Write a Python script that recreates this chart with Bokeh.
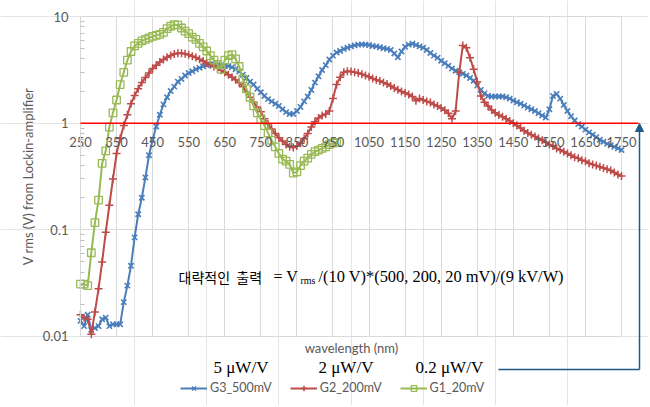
from bokeh.plotting import figure
from bokeh.models import (Range1d, FixedTicker, CustomJSTickFormatter, LinearAxis, LogAxis, LogScale, Grid,
                          Label, Arrow, NormalHead, Legend, LegendItem)
from bokeh.embed import file_html
from bokeh.resources import INLINE

# ---------------- data ----------------
wl_g3 = list(range(250, 1751, 10))
g3_500mV = [
    0.014, 0.0125, 0.016, 0.0115, 0.012, 0.0125, 0.0145, 0.015, 0.0125, 0.013,
    0.013, 0.013, 0.021, 0.030, 0.046, 0.085, 0.14, 0.20, 0.31, 0.50,
    0.70, 0.93, 1.2, 1.5, 1.75, 2.0, 2.2, 2.45, 2.6, 2.8,
    2.95, 3.07, 3.2, 3.3, 3.42, 3.5, 3.55, 3.55, 3.5, 3.47,
    3.45, 3.43, 3.35, 3.2, 3.05, 2.85, 2.65, 2.45, 2.3, 2.1,
    1.95, 1.8, 1.68, 1.6, 1.52, 1.45, 1.35, 1.27, 1.22, 1.22,
    1.3, 1.42, 1.6, 1.78, 2.05, 2.4, 2.75, 3.15, 3.5, 3.95,
    4.3, 4.6, 4.75, 4.95, 5.1, 5.25, 5.36, 5.45, 5.48, 5.45,
    5.4, 5.3, 5.25, 5.15, 5.05, 4.97, 4.85, 4.5, 4.15, 4.7,
    5.2, 5.45, 5.55, 5.4, 5.25, 5.1, 4.85, 4.55, 4.3, 4.1,
    3.85, 3.65, 3.45, 3.25, 3.1, 3.0, 2.9, 2.8, 2.65, 2.5,
    2.25, 2.05, 1.9, 1.8, 1.78, 1.78, 1.78, 1.78, 1.75, 1.7,
    1.63, 1.57, 1.52, 1.46, 1.4, 1.35, 1.3, 1.24, 1.18, 1.13,
    1.35, 1.8, 1.88, 1.7, 1.48, 1.3, 1.16, 1.06, 0.98, 0.93,
    0.87, 0.82, 0.78, 0.74, 0.7, 0.67, 0.64, 0.62, 0.6, 0.58,
    0.56,
]
wl_g2 = list(range(250, 1751, 10))
g2_200mV = [
    0.016, 0.015, 0.0145, 0.0105, 0.017, 0.028, 0.05, 0.095, 0.17, 0.30,
    0.52, 0.72, 0.95, 1.2, 1.52, 1.82, 2.1, 2.4, 2.68, 2.95,
    3.25, 3.5, 3.75, 3.95, 4.15, 4.3, 4.45, 4.53, 4.53, 4.47,
    4.37, 4.25, 4.12, 3.97, 3.82, 3.67, 3.53, 3.4, 3.27, 3.13,
    3.0, 2.85, 2.7, 2.55, 2.4, 2.2, 1.95, 1.75, 1.57, 1.42,
    1.28, 1.1, 0.98, 0.88, 0.8, 0.73, 0.68, 0.63, 0.6, 0.59,
    0.61, 0.65, 0.72, 0.8, 0.92, 1.03, 1.12, 1.18, 1.22, 1.3,
    1.7, 2.3, 2.7, 3.0, 3.07, 3.05, 3.0, 2.95, 2.88, 2.8,
    2.72, 2.63, 2.55, 2.48, 2.4, 2.33, 2.23, 2.14, 2.06, 1.98,
    1.92, 1.86, 1.78, 1.62, 1.7, 1.65, 1.6, 1.56, 1.5, 1.45,
    1.39, 1.32, 1.24, 1.1, 1.3, 3.0, 5.35, 5.1, 4.1, 3.2,
    2.45, 1.8, 1.57, 1.45, 1.33, 1.25, 1.19, 1.15, 1.1, 1.05,
    1.0, 0.95, 0.9, 0.85, 0.81, 0.78, 0.75, 0.72, 0.69, 0.66,
    0.63, 0.61, 0.58, 0.56, 0.54, 0.52, 0.5, 0.48, 0.47, 0.45,
    0.44, 0.42, 0.41, 0.4, 0.39, 0.38, 0.37, 0.36, 0.345, 0.33,
    0.32,
]
wl_g1 = list(range(250, 961, 10))
g1_20mV = [
    0.031, 0.031, 0.030, 0.061, 0.117, 0.19, 0.42, 0.55, 0.92, 1.25,
    1.65, 2.3, 3.0, 3.9, 4.7, 5.3, 5.6, 5.9, 6.1, 6.3,
    6.5, 6.65, 6.8, 7.1, 7.7, 8.1, 8.4, 8.3, 7.8, 7.3,
    6.9, 6.4, 6.1, 5.6, 5.2, 4.75, 4.3, 3.9, 3.55, 3.2,
    3.9, 4.3, 4.4, 4.0, 3.4, 2.6, 2.1, 1.75, 1.45, 1.25,
    1.08, 0.95, 0.81, 0.69, 0.6, 0.52, 0.46, 0.44, 0.41, 0.34,
    0.35, 0.40, 0.44, 0.47, 0.51, 0.54, 0.56, 0.58, 0.60, 0.63,
    0.65, 0.66,
]
series_names = ["G3_500mV", "G2_200mV", "G1_20mV"]
x_ticks = [250, 350, 450, 550, 650, 750, 850, 950, 1050, 1150, 1250, 1350, 1450, 1550, 1650, 1750]
y_ticks = [0.01, 0.1, 1, 10]
y_tick_labels = ["0.01", "0.1", "1", "10"]
y_minor = [m * 10.0 ** e for e in (-2, -1, 0) for m in range(2, 10)]
x_axis_cross = 1
gain_labels = ["5 \u03bcW/V", "2 \u03bcW/V", "0.2 \u03bcW/V"]

# plotting area bounds (data) and full-canvas ranges
X_MIN, X_MAX = 250, 1750
Y_MIN, Y_MAX = 0.01, 10
X_LO, X_HI = 28.2, 1824.8
Y_LO, Y_HI = 0.002254, 14.13

BLUE, RED, GREEN = "#4a7ebb", "#be4b48", "#98b954"
GRAY = "#595959"
GRID = "#d9d9d9"
ARROW = "#1f5a87"

p = figure(width=648, height=405, output_backend="svg", toolbar_location=None,
           x_range=Range1d(X_LO, X_HI), y_range=Range1d(Y_LO, Y_HI), y_axis_type="log",
           x_axis_location=None, y_axis_location=None, min_border=0)
p.y_scale = LogScale()
p.outline_line_color = None
p.background_fill_color = "white"
p.border_fill_color = "white"

# grid limited to the plotting area
p.add_layout(Grid(dimension=0, ticker=FixedTicker(ticks=x_ticks), bounds=(X_MIN, X_MAX),
                  cross_bounds=(Y_MIN, Y_MAX), grid_line_color=GRID))
p.add_layout(Grid(dimension=1, ticker=FixedTicker(ticks=y_ticks), bounds=(Y_MIN, Y_MAX),
                  cross_bounds=(X_MIN, X_MAX), grid_line_color=GRID))

# y axis (log) at x = 250
ya = LogAxis(fixed_location=X_MIN, bounds=(Y_MIN, Y_MAX),
             ticker=FixedTicker(ticks=y_ticks, minor_ticks=y_minor))
ya.formatter = CustomJSTickFormatter(args=dict(yt=y_ticks, yl=y_tick_labels), code="""
const i = yt.findIndex(t => Math.abs(Math.log10(t) - Math.log10(tick)) < 1e-6);
return i >= 0 ? yl[i] : '';
""")
ya.major_tick_line_color = None
ya.minor_tick_in = 4
ya.minor_tick_out = 0
ya.minor_tick_line_color = "#bfbfbf"
ya.axis_line_color = GRID
ya.major_label_standoff = 6
ya.major_label_text_font = "Lato"
ya.major_label_text_font_size = "13px"
ya.major_label_text_color = GRAY
ya.axis_label = "V rms (V) from Lockin-amplifier"
ya.axis_label_text_font = "Lato"
ya.axis_label_text_font_size = "13px"
ya.axis_label_text_font_style = "normal"
ya.axis_label_text_color = GRAY
ya.axis_label_standoff = 4
p.add_layout(ya, "left")

# x axis crossing at y = 1
xa = LinearAxis(fixed_location=x_axis_cross, bounds=(X_MIN, X_MAX), ticker=FixedTicker(ticks=x_ticks))
xa.major_tick_line_color = None
xa.minor_tick_line_color = None
xa.axis_line_color = None
xa.major_label_standoff = 8
xa.major_label_text_font = "Lato"
xa.major_label_text_font_size = "13px"
xa.major_label_text_color = GRAY
p.add_layout(xa, "below")

l3 = p.line(wl_g3, g3_500mV, color=BLUE, line_width=2)
s3 = p.scatter(wl_g3, g3_500mV, marker="x", size=7.5, line_color=BLUE, line_width=1.6)
l2 = p.line(wl_g2, g2_200mV, color=RED, line_width=2)
s2 = p.scatter(wl_g2, g2_200mV, marker="cross", size=8, line_color=RED, line_width=1.5)
l1 = p.line(wl_g1, g1_20mV, color=GREEN, line_width=2)
s1 = p.scatter(wl_g1, g1_20mV, marker="square", size=7.5, line_color=GREEN, fill_color=None, line_width=1.3)

# red reference line at 1, extending right to the arrow
p.add_layout(Arrow(end=None, x_start=X_MIN, y_start=x_axis_cross, x_end=1797, y_end=x_axis_cross,
                   start_units="data", end_units="data", line_color="#ff0000", line_width=1.5))
# bracket arrow (screen units from bottom-left)
p.add_layout(Arrow(end=None, x_start=498, y_start=36, x_end=639, y_end=36,
                   start_units="screen", end_units="screen", line_color=ARROW, line_width=1.5))
p.add_layout(Arrow(end=NormalHead(size=8, fill_color=ARROW, line_color=ARROW),
                   x_start=639, y_start=36, x_end=639, y_end=282,
                   start_units="screen", end_units="screen", line_color=ARROW, line_width=1.5))

common = dict(x_units="screen", y_units="screen", text_baseline="middle", text_color="black")
# x axis title
p.add_layout(Label(x=351, y=58, text="wavelength (nm)", text_align="center", x_units="screen",
                   y_units="screen", text_baseline="middle", text_font="Lato", text_font_size="13px",
                   text_color=GRAY))
# formula
p.add_layout(Label(x=178, y=129, text="\ub300\ub7b5\uc801\uc778 \u00a0\ucd9c\ub825", text_font="Noto Sans CJK KR",
                   text_font_size="14px", **common))
p.add_layout(Label(x=273, y=129, text="= V", text_font="Liberation Serif", text_font_size="16px", **common))
p.add_layout(Label(x=300, y=125, text="rms", text_font="Liberation Serif", text_font_size="10px", **common))
p.add_layout(Label(x=318, y=129, text="/(10 V)*(500, 200, 20 mV)/(9 kV/W)", text_font="Liberation Serif",
                   text_font_size="16.4px", **common))

# gain labels
for gx, gt in zip([213, 318, 415], gain_labels):
    p.add_layout(Label(x=gx, y=38, text=gt, text_font="Liberation Serif", text_font_size="17px", **common))

legend = Legend(items=[LegendItem(label=series_names[0], renderers=[l3, s3]),
                       LegendItem(label=series_names[1], renderers=[l2, s2]),
                       LegendItem(label=series_names[2], renderers=[l1, s1])],
                location=(180, 10), orientation="horizontal")
legend.border_line_color = None
legend.background_fill_alpha = 0
legend.padding = 0
legend.margin = 0
legend.spacing = 18
legend.glyph_width = 27
legend.glyph_height = 14
legend.label_standoff = 3
legend.label_height = 14
legend.label_text_font = "Lato"
legend.label_text_font_size = "12.5px"
legend.label_text_color = GRAY
p.add_layout(legend)

open("out.html", "w").write(file_html(p, INLINE))
